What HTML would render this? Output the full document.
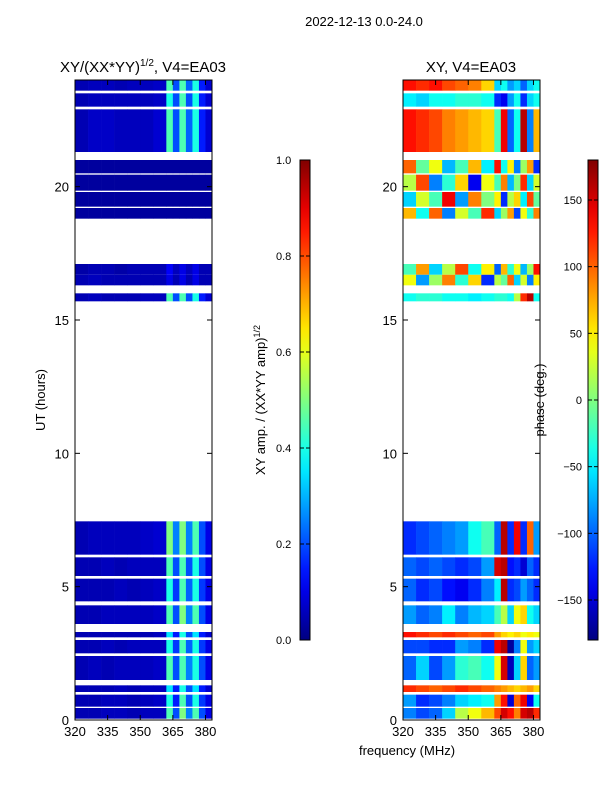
<!DOCTYPE html>
<html><head><meta charset="utf-8"><style>
body{margin:0;background:#fff;font-family:"Liberation Sans",sans-serif}
svg text{font-family:"Liberation Sans",sans-serif;fill:#000}
</style></head><body>
<svg id="c" width="600" height="800" viewBox="0 0 600 800">
<defs>
<linearGradient id="jetg" x1="0" y1="1" x2="0" y2="0"></linearGradient>
</defs>
<text x="364" y="26" font-size="13" text-anchor="middle">2022-12-13 0.0-24.0</text>
<text x="143" y="72" font-size="15" text-anchor="middle">XY/(XX*YY)<tspan font-size="10" dy="-6">1/2</tspan><tspan dy="6">, V4=EA03</tspan></text>
<text x="471" y="72" font-size="15" text-anchor="middle">XY, V4=EA03</text>
<text x="407" y="755" font-size="13" text-anchor="middle">frequency (MHz)</text>
<text transform="translate(45,400) rotate(-90)" font-size="13" text-anchor="middle">UT (hours)</text>
<text transform="translate(265,400) rotate(-90)" font-size="13" text-anchor="middle">XY amp. / (XX*YY amp)<tspan font-size="9" dy="-5">1/2</tspan></text>
<text transform="translate(544,400) rotate(-90)" font-size="13" text-anchor="middle">phase (deg.)</text>
<g id="g"></g>
</svg>
<script>
const freqEdges=[320,326,332,338,344,350,356,362,365,368,371,374,377,380,383];
const rowStart=[0.05,0.5,1.05,1.5,2.5,3.1,3.6,4.45,5.4,6.2,15.7,16.3,16.7,18.8,19.25,19.85,20.5,21.3,23.0,23.6];
const rowEnd  =[0.45,0.95,1.3,2.4,3.0,3.3,4.3,5.3,6.1,7.45,16.0,16.7,17.1,19.2,19.8,20.45,21.0,22.9,23.5,24.0];
const ampRows=[
[.05,.05,.06,.06,.05,.06,.06,.45,.2,.5,.25,.45,.2,.1],
[.05,.05,.06,.06,.05,.06,.07,.4,.15,.45,.2,.4,.18,.1],
[.05,.05,.05,.06,.05,.06,.06,.35,.15,.4,.2,.35,.15,.08],
[.05,.06,.05,.06,.06,.06,.07,.45,.2,.45,.25,.4,.2,.1],
[.05,.05,.06,.05,.06,.06,.06,.4,.18,.45,.22,.4,.18,.1],
[.05,.05,.05,.05,.05,.05,.06,.35,.15,.4,.2,.35,.15,.08],
[.05,.05,.06,.06,.06,.06,.07,.45,.2,.5,.25,.45,.2,.1],
[.05,.05,.05,.06,.05,.06,.07,.4,.18,.45,.22,.4,.18,.1],
[.05,.05,.06,.05,.06,.06,.06,.45,.2,.45,.2,.4,.2,.1],
[.05,.06,.06,.06,.06,.07,.08,.5,.25,.5,.25,.45,.2,.1],
[.05,.06,.05,.05,.05,.06,.06,.45,.2,.45,.2,.4,.15,.08],
[.05,.06,.05,.05,.05,.05,.05,.1,.05,.1,.05,.1,.05,.05],
[.04,.05,.05,.04,.05,.05,.05,.12,.06,.1,.06,.1,.05,.05],
[.03,.03,.03,.03,.03,.03,.03,.03,.03,.03,.03,.03,.03,.03],
[.03,.03,.03,.03,.03,.03,.03,.03,.03,.03,.03,.03,.03,.03],
[.03,.03,.03,.03,.03,.03,.03,.03,.03,.03,.03,.03,.03,.03],
[.03,.03,.03,.03,.03,.03,.03,.03,.03,.03,.03,.03,.03,.03],
[.05,.07,.07,.06,.06,.06,.08,.45,.2,.45,.22,.4,.15,.08],
[.05,.06,.06,.06,.06,.06,.07,.4,.2,.45,.2,.4,.15,.08],
[.05,.06,.06,.05,.06,.06,.07,.45,.2,.45,.22,.4,.15,.08]];
const phaseRows=[
[-90,-110,-100,-60,20,40,70,110,150,130,90,150,160,120],
[-80,-120,-110,-90,-60,-50,-40,80,130,-150,100,140,-140,-40],
[120,110,100,110,120,110,100,90,80,70,60,70,80,60],
[-100,-60,-110,-80,-30,-20,-40,40,150,-160,-60,60,-100,-80],
[-110,-110,-120,-120,-80,-90,-120,140,160,-170,-90,40,-80,-60],
[130,120,110,120,110,100,110,80,60,50,60,40,50,40],
[-80,-100,-90,-50,-90,-70,-60,-20,20,-60,40,60,-40,-60],
[-100,-120,-110,-130,-140,-120,-90,-50,160,-120,-110,-80,-100,-120],
[-100,-110,-100,-110,-120,-110,-80,150,160,-130,-120,-150,-100,-120],
[-120,-110,-100,-90,-80,-40,-20,-100,160,-120,140,-120,100,-80],
[-40,-30,-30,-40,-40,-50,-40,-30,-30,-40,20,120,160,-40],
[40,-80,10,90,-30,60,-120,20,-10,100,-60,30,-90,50],
[-20,80,-60,20,110,-40,50,-100,70,-30,40,-70,10,130],
[70,-40,100,-90,30,-20,120,-60,10,80,-110,40,-30,90],
[-60,30,-20,140,-80,90,0,50,-120,20,60,-50,110,-10],
[20,110,-90,-30,60,-140,40,-20,90,-70,0,120,-60,30],
[100,-10,40,-70,-20,70,-50,130,-40,50,-90,10,80,-120],
[130,120,110,90,80,70,60,-20,140,-100,-40,160,-90,70],
[-50,-60,-40,-40,-30,-30,-40,-120,-140,-80,-40,-120,-60,-40],
[130,120,130,110,100,90,60,-60,-40,-80,-60,-100,-60,-40]];
const yTicks=[0,5,10,15,20];
const xTicks=[320,335,350,365,380];
const ampTicks=[0.0,0.2,0.4,0.6,0.8,1.0];
const phaseTicks=[-150,-100,-50,0,50,100,150];

const NS="http://www.w3.org/2000/svg";
const G=document.getElementById('g');
function el(t,a,p){const e=document.createElementNS(NS,t);for(const k in a)e.setAttribute(k,a[k]);(p||G).appendChild(e);return e;}
function cl(v){return Math.max(0,Math.min(1,v));}
function jet(x){x=cl(x);const r=cl(1.5-Math.abs(4*x-3)),g=cl(1.5-Math.abs(4*x-2)),b=cl(1.5-Math.abs(4*x-1));
 return `rgb(${Math.round(r*255)},${Math.round(g*255)},${Math.round(b*255)})`;}
const Y0=720,Y1=80;
function yS(h){return Y0-(h/24)*(Y0-Y1);}
const panels=[{x0:75,x1:212,name:'amp'},{x0:403,x1:540,name:'phase'}];
function xS(p,f){return p.x0+(f-320)/(383-320)*(p.x1-p.x0);}
panels.forEach((p,pi)=>{
 for(let r=0;r<rowStart.length;r++){
  for(let c=0;c<freqEdges.length-1;c++){
   const v=pi===0?ampRows[r][c]:(phaseRows[r][c]+180)/360;
   const x=xS(p,freqEdges[c]),x2=xS(p,freqEdges[c+1]);
   const y=yS(rowEnd[r]),y2=yS(rowStart[r]);
   const e=el('rect',{x:x.toFixed(2),y:y.toFixed(2),width:(x2-x+0.3).toFixed(2),height:(y2-y).toFixed(2),fill:jet(v)});
   
   
  }
 }
 const fr=el('rect',{x:p.x0,y:Y1,width:p.x1-p.x0,height:Y0-Y1,fill:'none',stroke:'#000','stroke-width':1});
 
 
 yTicks.forEach(t=>{const y=yS(t);
  el('line',{x1:p.x0,y1:y,x2:p.x0+5,y2:y,stroke:'#000'});
  el('line',{x1:p.x1,y1:y,x2:p.x1-5,y2:y,stroke:'#000'});
  const tx=el('text',{x:p.x0-6,y:y+5,'font-size':13,'text-anchor':'end'});tx.textContent=t;
  
  
 });
 xTicks.forEach(t=>{const x=xS(p,t);
  el('line',{x1:x,y1:Y0,x2:x,y2:Y0-5,stroke:'#000'});
  el('line',{x1:x,y1:Y1,x2:x,y2:Y1+5,stroke:'#000'});
  const tx=el('text',{x:x,y:Y0+16,'font-size':13,'text-anchor':'middle'});tx.textContent=t;
  
  
 });
});
// colorbars
const gr=document.getElementById('jetg');
for(let i=0;i<=20;i++){el('stop',{offset:i/20,'stop-color':jet(i/20)},gr);}
const CB0=640,CB1=160;
[{x:300,ticks:ampTicks,lo:0,hi:1,name:'amp-colorbar',fmt:v=>v.toFixed(1)},
 {x:588,ticks:phaseTicks,lo:-180,hi:180,name:'phase-colorbar',fmt:v=>v<0?'\u2212'+(-v):''+v}].forEach(cb=>{
 const r=el('rect',{x:cb.x,y:CB1,width:10,height:CB0-CB1,fill:'url(#jetg)',stroke:'#000'});
 
 
 cb.ticks.forEach(t=>{const y=CB0-(t-cb.lo)/(cb.hi-cb.lo)*(CB0-CB1);
  el('line',{x1:cb.x+10,y1:y,x2:cb.x+6,y2:y,stroke:'#000'});
  el('line',{x1:cb.x,y1:y,x2:cb.x+4,y2:y,stroke:'#000'});
  const tx=el('text',{x:cb.name==='amp-colorbar'?cb.x-24:cb.x-26,y:y+4,'font-size':11,'text-anchor':cb.name==='amp-colorbar'?'start':'end'});
  if(cb.name==='amp-colorbar'){tx.setAttribute('x',cb.x-24);}else{tx.setAttribute('x',cb.x-6);}
  tx.textContent=cb.fmt(t);
  
  
 });
});
</script>
</body></html>
